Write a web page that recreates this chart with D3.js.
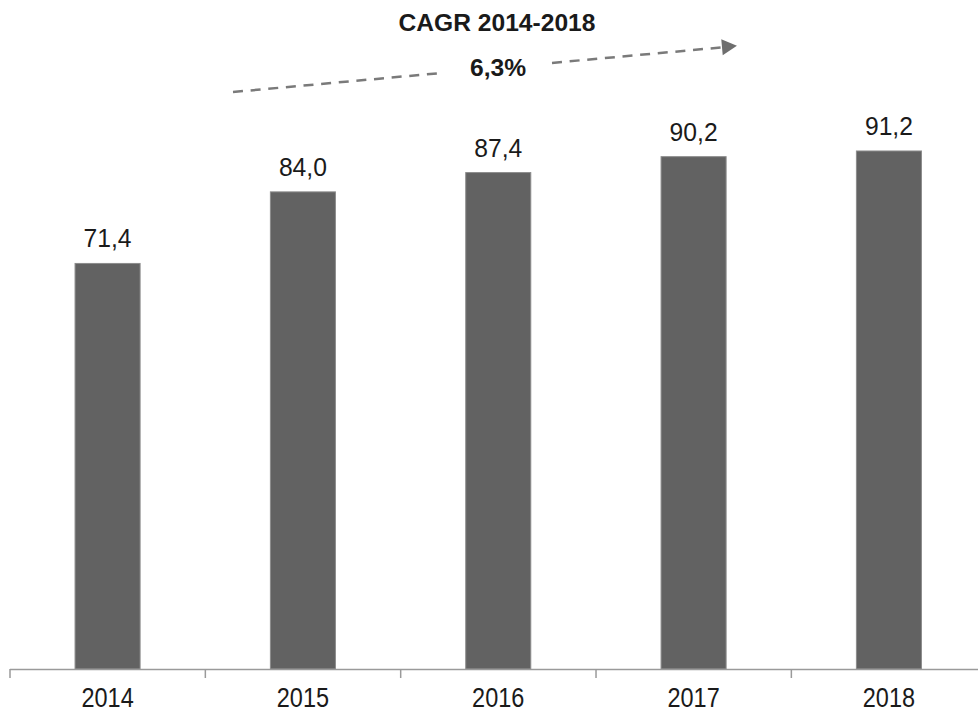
<!DOCTYPE html>
<html>
<head>
<meta charset="utf-8">
<script src="https://cdn.jsdelivr.net/npm/d3@7"></script>
<style>
  html, body { margin: 0; padding: 0; background: #fff; }
  svg { display: block; font-family: "Liberation Sans", Arial, sans-serif; }
</style>
</head>
<body>
<svg id="chart" width="978" height="711"></svg>
<script>
const categories = ["2014", "2015", "2016", "2017", "2018"];
const values = [71.4, 84.0, 87.4, 90.2, 91.2];
const valueLabels = ["71,4", "84,0", "87,4", "90,2", "91,2"];
const cagrTitle = "CAGR 2014-2018";
const cagrValue = "6,3%";

const svg = d3.select("#chart");
const W = 978, H = 711;
const axisY = 669;

const x = d3.scaleBand()
  .domain(categories)
  .range([10, 10 + 195.3 * categories.length])
  .paddingInner(0.667)
  .paddingOuter(0.333);

const y = d3.scaleLinear().domain([0, 100]).range([axisY, axisY - 568]);

// bars
svg.append("g").selectAll("rect")
  .data(values)
  .join("rect")
  .attr("x", (d, i) => x(categories[i]))
  .attr("y", d => y(d))
  .attr("width", x.bandwidth())
  .attr("height", d => y(0) - y(d))
  .attr("fill", "#626262")
  .attr("stroke", "#8c8c8c")
  .attr("stroke-width", 1);

// value labels
svg.append("g").selectAll("text")
  .data(values)
  .join("text")
  .attr("transform", (d, i) => `translate(${x(categories[i]) + x.bandwidth() / 2},${y(d) - 16}) scale(0.95,1)`)
  .attr("text-anchor", "middle")
  .attr("font-size", 26)
  .attr("fill", "#1a1a1a")
  .text((d, i) => valueLabels[i]);

// axis
const axisG = svg.append("g").attr("transform", `translate(0,${axisY})`);
const axis = d3.axisBottom(x).tickSize(0).tickPadding(0);
axisG.call(axis);
axisG.select(".domain").remove();
axisG.append("line")
  .attr("x1", x.range()[0]).attr("x2", x.range()[1])
  .attr("y1", 0.5).attr("y2", 0.5)
  .attr("stroke", "#9a9a9a").attr("stroke-width", 1.5);
const boundaries = categories.map(c => x(c) - x.step() * x.paddingOuter());
axisG.selectAll(".bound")
  .data(boundaries)
  .join("line")
  .attr("class", "bound")
  .attr("x1", d => d).attr("x2", d => d)
  .attr("y1", 0).attr("y2", 9)
  .attr("stroke", "#9a9a9a").attr("stroke-width", 1.5);
axisG.selectAll(".tick text")
  .attr("font-size", 28)
  .attr("font-family", "'Liberation Sans', Arial, sans-serif")
  .attr("fill", "#1a1a1a")
  .attr("dy", null)
  .attr("y", null)
  .attr("transform", "translate(0,38) scale(0.84,1)");

// CAGR annotation
svg.append("text")
  .attr("x", 497).attr("y", 31)
  .attr("text-anchor", "middle")
  .attr("font-size", 24.6)
  .attr("font-weight", "bold")
  .attr("fill", "#1a1a1a")
  .text(cagrTitle);

svg.append("text")
  .attr("x", 498).attr("y", 76)
  .attr("text-anchor", "middle")
  .attr("font-size", 24.6)
  .attr("font-weight", "bold")
  .attr("fill", "#1a1a1a")
  .text(cagrValue);

// dashed arrow (split around the percentage)
const x0 = 233, y0 = 92, x1 = 724, y1 = 47.2;
const slope = (y1 - y0) / (x1 - x0);
const lineAt = xx => y0 + slope * (xx - x0);
const dashStyle = sel => sel
  .attr("stroke", "#7a7a7a")
  .attr("stroke-width", 2.5)
  .attr("stroke-dasharray", "10,7.7")
  .attr("fill", "none");
svg.append("line")
  .attr("x1", x0).attr("y1", y0)
  .attr("x2", 440).attr("y2", lineAt(440))
  .call(dashStyle);
svg.append("line")
  .attr("x1", 552).attr("y1", lineAt(552))
  .attr("x2", x1).attr("y2", y1)
  .call(dashStyle);
// arrow head
const ang = Math.atan2(y1 - y0, x1 - x0);
svg.append("path")
  .attr("d", "M0,-8 L15,0 L0,8 Z")
  .attr("transform", `translate(${x1 - 2},${y1}) rotate(${ang * 180 / Math.PI})`)
  .attr("fill", "#6e6e6e");
</script>
</body>
</html>
